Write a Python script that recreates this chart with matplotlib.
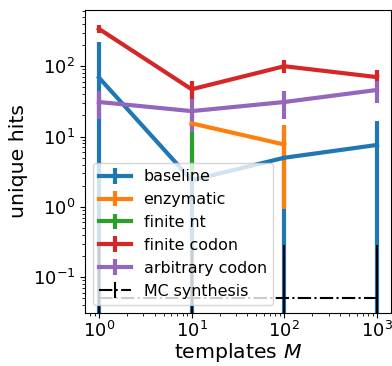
import numpy as np
import matplotlib
matplotlib.use("Agg")
import matplotlib.pyplot as plt

nan = np.nan

# number of templates
M = [1, 10, 100, 1000]

# mean unique hits and their errors for each library design
baseline = [69, 2.4, 5.0, 7.6]
baseline_err = [150, 5.0, 8.0, 8.8]

enzymatic = [nan, 15.4, 7.7, nan]
enzymatic_err = [nan, 5.0, 6.76, nan]

finite_nt = [nan, 7.0, nan, nan]
finite_nt_err = [nan, 4.6, nan, nan]

finite_codon = [340, 47, 100, 70]
finite_codon_err = [45, 14, 21, 17]

arbitrary_codon = [31, 23, 31, 46]
arbitrary_codon_err = [13, 11.5, 13, 16]

mc_synthesis = [0.05, 0.05, 0.05, 0.05]
mc_synthesis_err = [0.24, 0.24, 0.24, 0.24]

series = [
    ("baseline", baseline, baseline_err, "C0"),
    ("enzymatic", enzymatic, enzymatic_err, "C1"),
    ("finite nt", finite_nt, finite_nt_err, "C2"),
    ("finite codon", finite_codon, finite_codon_err, "C3"),
    ("arbitrary codon", arbitrary_codon, arbitrary_codon_err, "C4"),
]

fig = plt.figure(figsize=(3.92, 3.66), dpi=100)
ax = fig.add_axes([85 / 392, 1 - 313 / 366, 306 / 392, 303 / 366])
ax.set_xscale("log")
ax.set_yscale("log")

for label, y, err, color in series:
    ax.errorbar(M, y, yerr=err, color=color, lw=3, elinewidth=3, label=label)

ax.errorbar(M, mc_synthesis, yerr=mc_synthesis_err, color="black", ls="-.",
            lw=1.5, elinewidth=1.5, label="MC synthesis")

ax.set_xlim(10 ** -0.15, 10 ** 3.15)
ax.set_ylim(0.031, 630)

ax.set_xlabel("templates $M$", fontsize=14.7)
ax.set_ylabel("unique hits", fontsize=14.7)
ax.xaxis.set_label_coords(0.5, -0.094)
ax.yaxis.set_label_coords(-0.186, 0.5)
ax.tick_params(axis="both", which="major", labelsize=13)
ax.tick_params(axis="x", which="major", pad=2)

ax.legend(loc="lower left", fontsize=11.4)

fig.savefig("out.png", dpi=100)
